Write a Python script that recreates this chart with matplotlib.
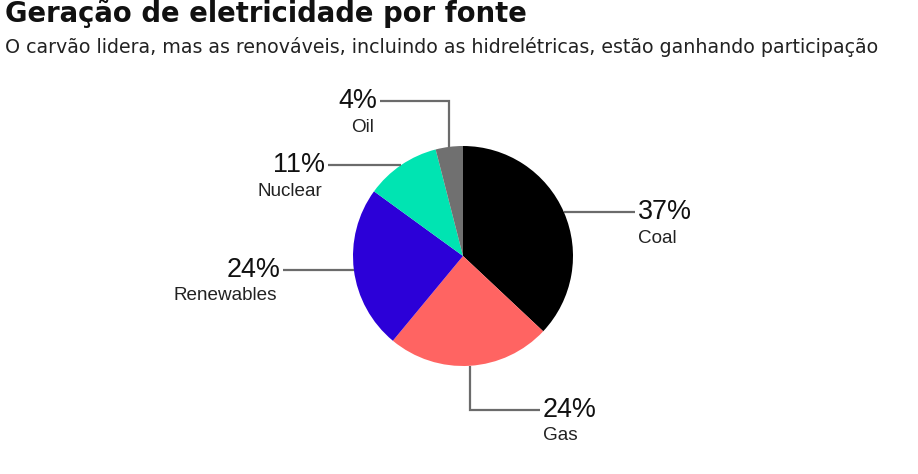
import numpy as np
import matplotlib
matplotlib.use("Agg")
import matplotlib.pyplot as plt

# ---- data ----
categories = ["Coal", "Gas", "Renewables", "Nuclear", "Oil"]
shares = [37, 24, 24, 11, 4]
pct_labels = ["37%", "24%", "24%", "11%", "4%"]
colors = ["#000000", "#ff6462", "#2c00d8", "#00e4b2", "#707070"]

title = "Geração de eletricidade por fonte"
subtitle = "O carvão lidera, mas as renováveis, incluindo as hidrelétricas, estão ganhando participação"

W, H = 918, 474
fig = plt.figure(figsize=(W / 100, H / 100), dpi=100)
ax = fig.add_axes([0, 0, 1, 1])
ax.set_xlim(0, W)
ax.set_ylim(0, H)
ax.set_aspect("equal")
ax.axis("off")

def Y(yp):
    return H - yp

cx, cy, r = 463, Y(256), 110
wedges, _ = ax.pie(shares, colors=colors, startangle=90, counterclock=False,
                   center=(cx, cy), radius=r, frame=True,
                   wedgeprops=dict(linewidth=0))
ax.set_xlim(0, W)
ax.set_ylim(0, H)
ax.axis("off")

def anchor(w):
    a = np.deg2rad((w.theta1 + w.theta2) / 2)
    return cx + r * np.cos(a), cy + r * np.sin(a)

lc = "#6b6b6b"
lw = 1.6
layout = {
    "Coal": dict(route=lambda x, y: [(635, y)], tx=638, ha="left"),
    "Gas": dict(route=lambda x, y: [(x, Y(410)), (540, Y(410))], tx=543, ha="left"),
    "Renewables": dict(route=lambda x, y: [(283, y)], tx=280, ha="right"),
    "Nuclear": dict(route=lambda x, y: [(328, y)], tx=325, ha="right"),
    "Oil": dict(route=lambda x, y: [(x, Y(101)), (380, Y(101))], tx=377, ha="right"),
}

for w, cat, pl in zip(wedges, categories, pct_labels):
    x0, y0 = anchor(w)
    L = layout[cat]
    pts = [(x0, y0)] + L["route"](x0, y0)
    ax.plot([p[0] for p in pts], [p[1] for p in pts], color=lc, lw=lw,
            solid_joinstyle="miter", solid_capstyle="butt")
    ly = pts[-1][1]
    ax.text(L["tx"], ly, pl, ha=L["ha"], va="center", fontsize=19.4,
            family="Liberation Sans", color="#111111")
    ax.text(L["tx"] - (3 if L["ha"] == "right" else 0), ly - 26, cat, ha=L["ha"], va="center",
            fontsize=13.6, family="Liberation Sans", color="#222222")

fig.text(5 / W, 1 - 22 / H, title, ha="left", va="baseline", fontsize=19.8,
         fontweight="bold", family="DejaVu Sans", color="#111111")
fig.text(5 / W, 1 - 53 / H, subtitle, ha="left", va="baseline", fontsize=13.7,
         family="DejaVu Sans", color="#222222")

fig.savefig("out.png", dpi=100, facecolor="white")
